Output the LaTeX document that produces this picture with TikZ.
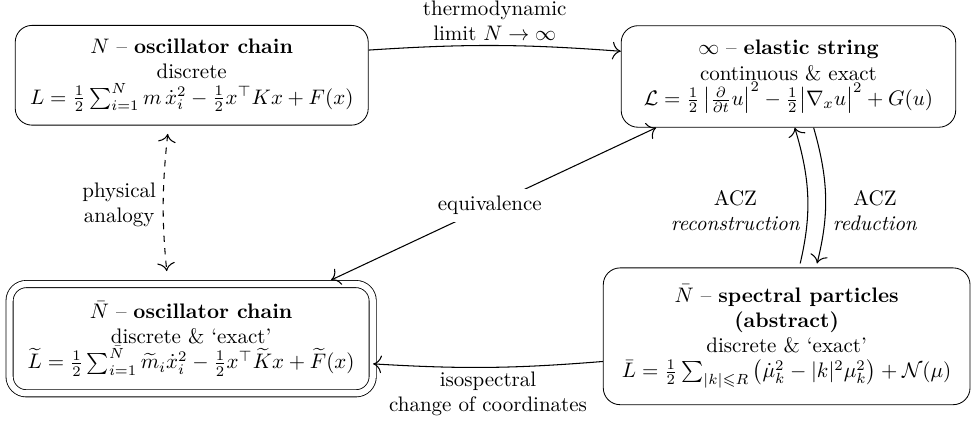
\documentclass[tikz,border=0pt]{standalone}
\usepackage{amsmath, amssymb}
\usetikzlibrary{arrows.meta, positioning}

\begin{document}
\begin{tikzpicture}[
    block/.style={draw, rounded corners=8pt, align=center, inner sep=2pt},
    arr/.style={-{To[length=4pt]}, line width=0.5pt},
    twoway/.style={{To[length=4pt]}-{To[length=4pt]}, line width=0.5pt},
    lbl/.style={align=center}
  ]
    \useasboundingbox (0,0) rectangle (16.29,-7.06);
    \node[block, minimum width=5.91cm, minimum height=1.67cm] (osc) at (3.21, -1.26)
      {$N$ -- \textbf{oscillator chain}\\ discrete\\
       $L=\frac{1}{2}\sum_{i=1}^{N} m\,\dot{x}_i^2-\frac{1}{2}x^{\top}Kx+F(x)$};
    \node[block, minimum width=5.6cm, minimum height=1.7cm] (str) at (13.2, -1.28)
      {$\infty$ -- \textbf{elastic string}\\ continuous \& exact\\
       $\mathcal{L}=\frac{1}{2}\left|\frac{\partial}{\partial t}u\right|^2
        -\frac{1}{2}\bigl|\nabla_x u\bigr|^2+G(u)$};
    \node[block, double, double distance=3pt, minimum width=6.08cm,
          minimum height=1.83cm] (oscbar) at (3.20, -5.67)
      {$\bar{N}$ -- \textbf{oscillator chain}\\ discrete \& `exact'\\
       $\widetilde{L}=\frac{1}{2}\sum_{i=1}^{\bar{N}}\widetilde{m}_i\dot{x}_i^2
        -\frac{1}{2}x^{\top}\widetilde{K}x+\widetilde{F}(x)$};
    \node[block, minimum width=6.14cm, minimum height=2.29cm] (spec) at (13.17, -5.63)
      {$\bar{N}$ -- \textbf{spectral particles}\\ \textbf{(abstract)}\\
       discrete \& `exact'\\
       $\bar{L}=\frac{1}{2}\sum_{|k|\leqslant R}\left(\dot{\mu}_k^2-|k|^2\mu_k^2\right)
        +\mathcal{N}(\mu)$};
    \draw[arr] ([yshift=12pt]osc.east) to[bend left=4]
      node[lbl, above, inner sep=2pt] {thermodynamic\\ limit $N\to\infty$}
      ([yshift=12pt]str.west);
    \draw[twoway, shorten <=4pt] ([xshift=63pt]oscbar.north) --
      node[fill=white] {equivalence} ([xshift=-63pt]str.south);
    \draw[twoway, dashed, shorten <=4pt, shorten >=6pt] ([xshift=-11pt]osc.south)
      to[bend right=6] node[lbl, left] {physical\\ analogy}
      ([xshift=-11pt]oscbar.north);
    \draw[arr, shorten <=2pt] ([xshift=6pt]spec.north) to[bend right=15]
      node[lbl, left, pos=0.4] {ACZ\\ \textit{reconstruction}}
      ([xshift=3pt]str.south);
    \draw[arr, shorten >=2pt] ([xshift=12pt]str.south) to[bend left=15]
      node[lbl, right, pos=0.6] {ACZ\\ \textit{reduction}}
      ([xshift=14pt]spec.north);
    \draw[arr] ([yshift=-12pt]spec.west) to[bend left=4]
      node[lbl, below, inner sep=2pt] {isospectral\\ change of coordinates}
      ([yshift=-12pt]oscbar.east);
  \end{tikzpicture}
\end{document}
